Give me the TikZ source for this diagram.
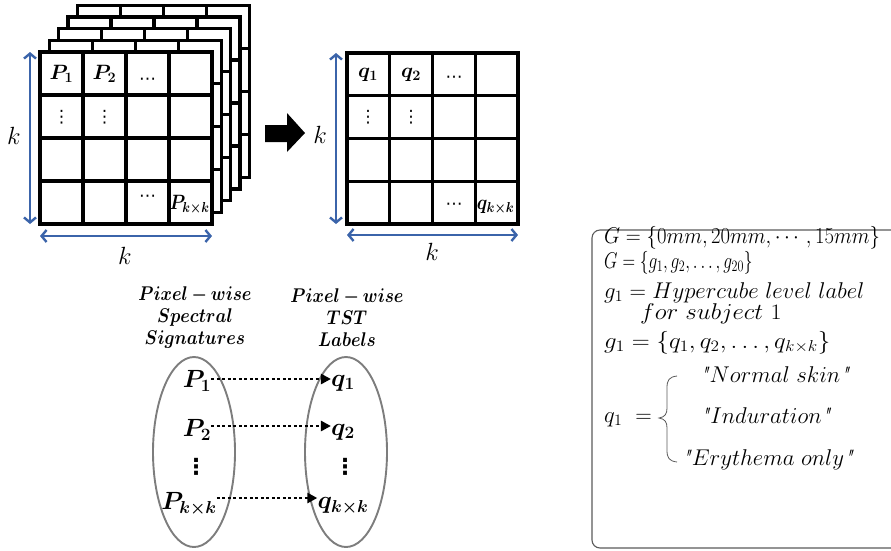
\documentclass[tikz,border=0pt]{standalone}
\usepackage{amsmath}
\usepackage{bm}
\usepackage{fontspec}
\newfontfamily\dvsym{DejaVu Sans}
\usetikzlibrary{arrows.meta,shapes.geometric}
\definecolor{kblue}{RGB}{59,100,170}
\definecolor{egray}{RGB}{125,125,125}
\definecolor{bgray}{RGB}{90,90,90}
\newcommand{\qmark}{\textit{\textquotedbl}}
\begin{document}
\begin{tikzpicture}[x=1pt,y=-1pt,
  gridline/.style={line width=3.3pt,black},
  dimarrow/.style={kblue,line width=2.4pt,{Straight Barb[length=5pt,width=12pt,line width=2.4pt]}-{Straight Barb[length=5pt,width=12pt,line width=2.4pt]}},
  celltxt/.style={font=\fontsize{20}{24}\selectfont,inner sep=0pt},
  celldots/.style={font=\dvsym\fontsize{17}{20}\selectfont,inner sep=0pt},
  klab/.style={font=\fontsize{26}{30}\selectfont,inner sep=0pt},
  bigtxt/.style={font=\fontsize{27}{30}\selectfont,inner sep=0pt},
  dotstxt/.style={font=\dvsym\bfseries\fontsize{22}{24}\selectfont,inner sep=0pt},
  headtxt/.style={font=\fontsize{16}{22}\selectfont,align=center,inner sep=0pt},
  oval/.style={draw=egray,line width=1.9pt,ellipse,minimum width=82pt,minimum height=190pt,inner sep=0pt},
  maparrow/.style={line width=2.6pt,dash pattern=on 3pt off 2.5pt,-{Triangle[length=10pt,width=10pt]}},
  boxtxt/.style={font=\fontsize{20}{24}\selectfont,inner sep=0pt,anchor=base west},
  choicetxt/.style={font=\fontsize{20}{24}\selectfont,inner sep=0pt,anchor=base}
]
\useasboundingbox (0,0) rectangle (891,550);

% ---- stacked hypercube layers (back to front)
\foreach \i in {4,3,2,1,0}{
  \pgfmathsetmacro{\ox}{40+9.3*\i}
  \pgfmathsetmacro{\oy}{52-11.7*\i}
  \fill[white] (\ox,\oy) rectangle ++(172,172);
  \foreach \c in {1,2,3}{
    \draw[gridline] ({\ox+43*\c},\oy) -- ++(0,172);
    \draw[gridline] (\ox,{\oy+43*\c}) -- ++(172,0);
  }
  \draw[gridline] (\ox,\oy) rectangle ++(172,172);
}
% front grid labels
\node[celltxt] (p1c) at (61.5,74) {$\bm{P_1}$};
\node[celltxt] (p2c) at (104.5,74) {$\bm{P_2}$};
\node[celldots] (p3c) at (147.5,81) {⋯};
\node[celldots] (p4c) at (61.5,117) {⋮};
\node[celldots] (p5c) at (104.5,117) {⋮};
\node[celldots] (p6c) at (147.5,198) {⋯};
\node[celltxt] (p7c) at (189.5,205) {\scalebox{0.86}[1]{$\bm{P_{k\times k}}$}};

% dimension arrows left
\coordinate (lv1) at (30,52);
\coordinate (lv2) at (30,224);
\draw[dimarrow] (lv1) -- (lv2);
\coordinate (lh1) at (40,236);
\coordinate (lh2) at (212,236);
\draw[dimarrow] (lh1) -- (lh2);
\node[klab] (kl1) at (14,136) {$k$};
\node[klab] (kl2) at (125,256) {$k$};

% big black arrow
\fill[black] (265,125) -- (287,125) -- (287,113) -- (305,133) -- (287,152) -- (287,142) -- (265,142) -- cycle;

% ---- right label grid
\foreach \c in {1,2,3}{
  \draw[gridline] ({347+42.75*\c},53) -- ++(0,171);
  \draw[gridline] (347,{53+42.75*\c}) -- ++(171,0);
}
\draw[gridline] (347,53) rectangle (518,224);
\node[celltxt] (q1c) at (368,75) {$\bm{q_1}$};
\node[celltxt] (q2c) at (411,75) {$\bm{q_2}$};
\node[celldots] (q3c) at (454,79) {⋯};
\node[celldots] (q4c) at (368,117) {⋮};
\node[celldots] (q5c) at (411,117) {⋮};
\node[celldots] (q6c) at (454,206) {⋯};
\node[celltxt] (q7c) at (495.5,207) {\scalebox{0.88}[1]{$\bm{q_{k\times k}}$}};

\coordinate (rv1) at (336,53);
\coordinate (rv2) at (336,224);
\draw[dimarrow] (rv1) -- (rv2);
\coordinate (rh1) at (347,235);
\coordinate (rh2) at (518,235);
\draw[dimarrow] (rh1) -- (rh2);
\node[klab] (kr1) at (320,135) {$k$};
\node[klab] (kr2) at (432,252) {$k$};

% ---- mapping
\node[headtxt] (hl) at (195,318) {\scalebox{1}[1.15]{$\bm{Pixel - wise}$}\\\scalebox{1}[1.15]{$\bm{Spectral}$}\\\scalebox{1}[1.15]{$\bm{Signatures}$}};
\node[headtxt] (hr) at (347,318) {\scalebox{1}[1.15]{$\bm{Pixel - wise}$}\\\scalebox{1}[1.15]{$\bm{TST}$}\\\scalebox{1}[1.15]{$\bm{Labels}$}};

\node[oval] (el) at (194,452) {};
\node[oval] (er) at (346,452) {};

\node[bigtxt] (P1) at (197,381) {$\bm{P_1}$};
\node[bigtxt] (P2) at (197,430) {$\bm{P_2}$};
\node[dotstxt] (Pd) at (196,467) {⋮};
\node[bigtxt] (Pk) at (189,504) {$\bm{P_{k\times k}}$};
\node[bigtxt] (q1) at (343,383) {$\bm{q_1}$};
\node[bigtxt] (q2) at (343,432) {$\bm{q_2}$};
\node[dotstxt] (qd) at (345,467) {⋮};
\node[bigtxt] (qk) at (343,506) {$\bm{q_{k\times k}}$};

\draw[maparrow] (P1.east |- 0,379) -- (q1.west |- 0,379);
\draw[maparrow] (P2.east |- 0,426) -- (q2.west |- 0,426);
\draw[maparrow] (Pk.east |- 0,498) -- (qk.west |- 0,498);

% ---- definition box
\draw[bgray,line width=1.1pt,rounded corners=8pt] (592,230) rectangle (905,548);
\node[boxtxt] (t1) at (604,243) {\scalebox{1}[1.1]{$G=\{0mm, 20mm, \cdots, 15mm\}$}};
\node[boxtxt] (t2) at (604,268) {\scalebox{0.84}[1.1]{$G=\{g_1, g_2, \dots, g_{20}\}$}};
\node[boxtxt] (t3) at (604,298) {\scalebox{1.1}[1.1]{$g_1 = Hypercube\ level\ label$}};
\node[boxtxt] (t4) at (640,319) {\scalebox{1.2}[1.1]{$for\ subject\ \mathrm{1}$}};
\node[boxtxt] (t5) at (604,348) {\scalebox{1.2}[1.1]{$g_1=\{q_1, q_2, \dots, q_{k\times k}\}$}};
\node[boxtxt] (t6) at (604,422) {\scalebox{1.1}[1.1]{$q_1\ =$}};
\draw[bgray,line width=0.8pt] (677,376) .. controls (669,377) and (667,380) .. (667,388) -- (667,408) .. controls (667,414) and (665,417) .. (659,418) .. controls (665,419) and (667,422) .. (667,428) -- (667,450) .. controls (667,458) and (669,461) .. (677,462);
\node[choicetxt] (c1) at (775,382) {\scalebox{1.1}[1.1]{\qmark$Normal\ skin$\qmark}};
\node[choicetxt] (c2) at (766,423) {\scalebox{1.1}[1.1]{\qmark$Induration$\qmark}};
\node[choicetxt] (c3) at (768,465) {\scalebox{1.1}[1.1]{\qmark$Erythema\ only$\qmark}};
\end{tikzpicture}
\end{document}
